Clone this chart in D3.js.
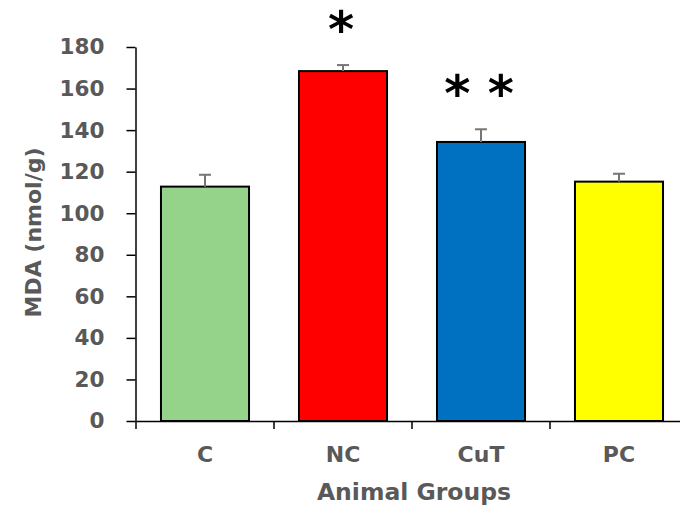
<!DOCTYPE html>
<html>
<head>
<meta charset="utf-8">
<script src="https://cdn.jsdelivr.net/npm/d3@7"></script>
<style>
    body { margin: 0; background: #fff; }
    svg { display: block; }
</style>
</head>
<body>
<div id="chart"></div>
<script>
// Data
const groups = ["C", "NC", "CuT", "PC"];
const mdaValues = [112.8, 168.4, 134.3, 115.2];
const mdaErrors = [5.7, 2.9, 6.1, 3.8];
const signif = ["", "*", "* *", ""];
const barColors = ["#95D38B", "#FF0000", "#0070C0", "#FFFF00"];
const yTicks = [0, 20, 40, 60, 80, 100, 120, 140, 160, 180];

const data = groups.map((g, i) => ({
    group: g, value: mdaValues[i], err: mdaErrors[i], star: signif[i], color: barColors[i]
}));

const width = 680, height = 506;
const font = "DejaVu Sans, sans-serif";
const grey = "#595959";

const svg = d3.select("#chart").append("svg")
    .attr("width", width)
    .attr("height", height);

// Scales
const x = d3.scaleBand()
    .domain(groups)
    .range([136, 688])
    .paddingInner(0.362)
    .paddingOuter(0.181);

const y = d3.scaleLinear()
    .domain([0, 180])
    .range([421, 47]);

// Bars
svg.selectAll(".bar")
    .data(data)
    .enter()
    .append("rect")
    .attr("class", "bar")
    .attr("x", d => x(d.group))
    .attr("y", d => y(d.value))
    .attr("width", x.bandwidth())
    .attr("height", d => y(0) - y(d.value))
    .attr("fill", d => d.color)
    .attr("stroke", "#000")
    .attr("stroke-width", 2);

// Error bars (upper only)
const errG = svg.append("g")
    .attr("stroke", "#767676")
    .attr("stroke-width", 2);

errG.selectAll(".err")
    .data(data)
    .enter()
    .append("line")
    .attr("x1", d => x(d.group) + x.bandwidth() / 2)
    .attr("x2", d => x(d.group) + x.bandwidth() / 2)
    .attr("y1", d => y(d.value))
    .attr("y2", d => y(d.value + d.err));

errG.selectAll(".cap")
    .data(data)
    .enter()
    .append("line")
    .attr("x1", d => x(d.group) + x.bandwidth() / 2 - 6)
    .attr("x2", d => x(d.group) + x.bandwidth() / 2 + 6)
    .attr("y1", d => y(d.value + d.err))
    .attr("y2", d => y(d.value + d.err));

// Significance stars
svg.selectAll(".star")
    .data(data.filter(d => d.star))
    .enter()
    .append("text")
    .attr("class", "star")
    .attr("x", d => x(d.group) + x.bandwidth() / 2 - 2)
    .attr("y", d => y(d.value + d.err) - 18)
    .attr("text-anchor", "middle")
    .style("font-family", font)
    .style("font-weight", "bold")
    .style("font-size", "50px")
    .style("fill", "#000")
    .text(d => d.star);

// Y axis
const yAxis = svg.append("g")
    .attr("transform", "translate(135.5,0)")
    .call(d3.axisLeft(y).tickValues(yTicks).tickSize(9).tickSizeOuter(0).tickPadding(22));

yAxis.select(".domain").attr("stroke", "#000").attr("stroke-width", 1.5);
yAxis.selectAll(".tick line").attr("stroke", "#000").attr("stroke-width", 1.5);
yAxis.selectAll(".tick text")
    .style("font-family", font)
    .style("font-weight", "bold")
    .style("font-size", "21.5px")
    .style("fill", grey);

// X axis
const xAxis = svg.append("g")
    .attr("transform", "translate(0,421)")
    .call(d3.axisBottom(x).tickSize(0).tickSizeOuter(0).tickPadding(25));

xAxis.select(".domain").attr("stroke", "#000").attr("stroke-width", 1.5);
xAxis.selectAll(".tick text")
    .style("font-family", font)
    .style("font-weight", "bold")
    .style("font-size", "22px")
    .style("fill", grey);

// Category boundary ticks
const bounds = d3.range(groups.length + 1).map(i => x.range()[0] + i * x.step());
xAxis.selectAll(".bound")
    .data(bounds)
    .enter()
    .append("line")
    .attr("x1", d => d)
    .attr("x2", d => d)
    .attr("y1", 0)
    .attr("y2", 8)
    .attr("stroke", "#000")
    .attr("stroke-width", 1.5);

// Axis titles
svg.append("text")
    .attr("x", 414)
    .attr("y", 500)
    .attr("text-anchor", "middle")
    .style("font-family", font)
    .style("font-weight", "bold")
    .style("font-size", "23.5px")
    .style("fill", grey)
    .text("Animal Groups");

svg.append("text")
    .attr("transform", "translate(41,232.5) rotate(-90)")
    .attr("text-anchor", "middle")
    .style("font-family", font)
    .style("font-weight", "bold")
    .style("font-size", "22px")
    .style("fill", grey)
    .text("MDA (nmol/g)");
</script>
</body>
</html>
